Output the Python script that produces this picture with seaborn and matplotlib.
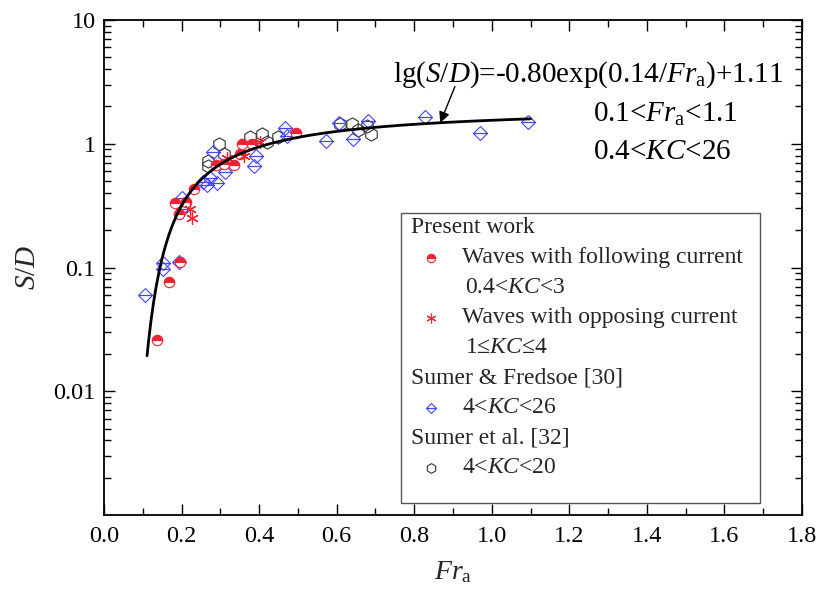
import numpy as np
import pandas as pd
import matplotlib
matplotlib.use("Agg")
import matplotlib.pyplot as plt
import seaborn as sns
from matplotlib.ticker import MultipleLocator, FixedLocator, FixedFormatter, LogLocator, NullFormatter
from matplotlib.patches import Rectangle

# ---------------- data ----------------
# Present work: waves with following current (0.4<KC<3)
fol_fr = [0.137, 0.168, 0.196, 0.184, 0.212, 0.194, 0.233, 0.289, 0.310, 0.335, 0.351, 0.356, 0.382, 0.495]
fol_sd = [0.026, 0.076, 0.111, 0.333, 0.339, 0.271, 0.434, 0.67, 0.685, 0.67, 0.83, 1.0, 1.0, 1.23]
# Present work: waves with opposing current (1<=KC<=4)
opp_fr = [0.222, 0.227, 0.317, 0.361, 0.403]
opp_sd = [0.295, 0.249, 0.76, 0.79, 1.03]
# Sumer & Fredsoe [30] (4<KC<26)
sf_fr = [0.106, 0.152, 0.153, 0.194, 0.201, 0.204, 0.255, 0.266, 0.274, 0.292, 0.312, 0.281, 0.392,
         0.387, 0.467, 0.472, 0.573, 0.606, 0.643, 0.681, 0.828, 0.970, 1.094]
sf_sd = [0.060, 0.108, 0.098, 0.111, 0.363, 0.295, 0.49, 0.46, 0.53, 0.48, 0.59, 0.86, 0.80,
         0.66, 1.34, 1.15, 1.05, 1.46, 1.09, 1.54, 1.65, 1.23, 1.49]
# Sumer et al. [32] (4<KC<20)
se_fr = [0.268, 0.268, 0.297, 0.310, 0.377, 0.408, 0.421, 0.449, 0.609, 0.640, 0.655, 0.679, 0.689]
se_sd = [0.73, 0.66, 1.0, 0.83, 1.13, 1.21, 1.03, 1.13, 1.44, 1.44, 1.29, 1.39, 1.21]

# fitted curve lg(S/D) = A*exp(B/Fr_a) + C, drawn over 0.11 .. 1.1
fit_A, fit_B, fit_C = -0.80, 0.14, 1.11
fit_lo, fit_hi = 0.111, 1.1

xtick_vals = [0.0, 0.2, 0.4, 0.6, 0.8, 1.0, 1.2, 1.4, 1.6, 1.8]
xtick_labels = ["0.0", "0.2", "0.4", "0.6", "0.8", "1.0", "1.2", "1.4", "1.6", "1.8"]
ytick_vals = [0.01, 0.1, 1, 10]
ytick_labels = ["0.01", "0.1", "1", "10"]

RED = "#ee2233"
BLUE = "#4545ff"
GREY = "#333333"

# ---------------- style ----------------
sns.set_theme(style="ticks")
plt.rcParams["font.family"] = ["Liberation Serif", "DejaVu Serif"]
plt.rcParams["mathtext.fontset"] = "custom"
plt.rcParams["mathtext.rm"] = "Liberation Serif"
plt.rcParams["mathtext.it"] = "Liberation Serif:italic"
plt.rcParams["mathtext.bf"] = "Liberation Serif:bold"

W, H = 820, 603
L, R, T, B = 104, 802, 20, 515
fig = plt.figure(figsize=(W / 100, H / 100), dpi=100)
ax = fig.add_axes([L / W, 1 - B / H, (R - L) / W, (B - T) / H])
ax.set_yscale("log")

# ---------------- data marks ----------------
df_fol = pd.DataFrame({"Fr": fol_fr, "SD": fol_sd})
df_opp = pd.DataFrame({"Fr": opp_fr, "SD": opp_sd})
df_sf = pd.DataFrame({"Fr": sf_fr, "SD": sf_sd})
df_se = pd.DataFrame({"Fr": se_fr, "SD": se_sd})

common = dict(estimator=None, sort=False, legend=False, ax=ax, linestyle="none")
sns.lineplot(data=df_se, x="Fr", y="SD", marker="h", markersize=9.5, markerfacecolor="none",
             markeredgecolor=GREY, markeredgewidth=0.8, color=GREY, **common)
sns.lineplot(data=df_sf, x="Fr", y="SD", marker="D", markersize=7.3, fillstyle="top",
             markerfacecolor="none", markerfacecoloralt="none",
             markeredgecolor=BLUE, markeredgewidth=0.8, color=BLUE, **common)
sns.lineplot(data=df_fol, x="Fr", y="SD", marker="o", markersize=7.5, fillstyle="top",
             markerfacecolor=RED, markerfacecoloralt="white",
             markeredgecolor=RED, markeredgewidth=0.8, color=RED, **common)
sns.lineplot(data=df_opp, x="Fr", y="SD", marker=(6, 2, 0), markersize=9,
             markeredgecolor=RED, markeredgewidth=0.9, color=RED, **common)

fr_fit = np.linspace(fit_lo, fit_hi, 300)
sd_fit = 10 ** (fit_A * np.exp(fit_B / fr_fit) + fit_C)
sns.lineplot(x=fr_fit, y=sd_fit, color="black", linewidth=2.0, ax=ax, sort=False,
             estimator=None, legend=False)

# ---------------- axes ----------------
ax.set_xlim(0.0, 1.8)
ax.set_ylim(0.001, 10)
ax.xaxis.set_major_locator(FixedLocator(xtick_vals))
ax.xaxis.set_major_formatter(FixedFormatter(xtick_labels))
ax.xaxis.set_minor_locator(MultipleLocator(0.1))
ax.yaxis.set_major_locator(FixedLocator(ytick_vals))
ax.yaxis.set_major_formatter(FixedFormatter(ytick_labels))
ax.yaxis.set_minor_locator(LogLocator(base=10, subs=np.arange(2, 10), numticks=20))
ax.yaxis.set_minor_formatter(NullFormatter())
ax.tick_params(which="both", direction="in", top=True, right=True, colors="black",
               labelsize=17.5, width=1.0)
ax.tick_params(which="major", length=8)
ax.tick_params(which="minor", length=5)
ax.tick_params(axis="x", pad=8)
ax.tick_params(axis="y", pad=6)
for s in ax.spines.values():
    s.set_linewidth(1.3)
    s.set_color("black")

ax.set_xlabel(r"$Fr_{\mathrm{a}}$", fontsize=20)
ax.set_ylabel(r"$S/D$", fontsize=21)
ax.xaxis.set_label_coords(0.5, -0.089)
ax.yaxis.set_label_coords(-0.09, 0.5)

# ---------------- annotation ----------------
ax.text(0.972, 0.89, r"lg($S$/$D$)=-0.80exp(0.14/$Fr_{\mathrm{a}}$)+1.11", transform=ax.transAxes,
        fontsize=21, ha="right", va="center", color="black")
ax.text(0.70, 0.81, r"0.1<$Fr_{\mathrm{a}}$<1.1", transform=ax.transAxes,
        fontsize=21, ha="left", va="center", color="black")
ax.text(0.70, 0.733, r"0.4<$KC$<26", transform=ax.transAxes,
        fontsize=21, ha="left", va="center", color="black")
ax.annotate("", xy=(0.867, 10 ** (fit_A * np.exp(fit_B / 0.867) + fit_C)), xytext=(0.905, 2.9),
            arrowprops=dict(arrowstyle="-|>", color="black", lw=1.0, mutation_scale=16,
                            shrinkA=0, shrinkB=0))

# ---------------- legend (drawn manually) ----------------
bx0, bx1, by0, by1 = 0.4255, 0.94, 0.024, 0.61
ax.add_patch(Rectangle((bx0, by0), bx1 - bx0, by1 - by0, transform=ax.transAxes,
                       facecolor="white", edgecolor="#555555", lw=1.0, zorder=5))
rows = [0.580 - i * 0.0606 for i in range(9)]
hx, mx, tx = 0.44, 0.468, 0.513
fs = 17
ax.text(hx, rows[0], "Present work", transform=ax.transAxes, fontsize=fs, va="center", zorder=6)
ax.plot([mx], [rows[1]], transform=ax.transAxes, marker="o", markersize=6, fillstyle="top",
        markerfacecolor=RED, markerfacecoloralt="white", markeredgecolor=RED, mew=0.8,
        linestyle="none", zorder=6)
ax.text(tx, rows[1], "Waves with following current", transform=ax.transAxes, fontsize=fs, va="center", zorder=6)
ax.text(tx + 0.004, rows[2], r"0.4<$KC$<3", transform=ax.transAxes, fontsize=fs, va="center", zorder=6)
ax.plot([mx], [rows[3]], transform=ax.transAxes, marker=(6, 2, 0), markersize=7,
        markeredgecolor=RED, mew=0.8, linestyle="none", zorder=6)
ax.text(tx, rows[3], "Waves with opposing current", transform=ax.transAxes, fontsize=fs, va="center", zorder=6)
ax.text(tx + 0.004, rows[4], r"1≤$KC$≤4", transform=ax.transAxes, fontsize=fs, va="center", zorder=6)
ax.text(hx, rows[5], "Sumer & Fredsoe [30]", transform=ax.transAxes, fontsize=fs, va="center", zorder=6)
ax.plot([mx], [rows[6]], transform=ax.transAxes, marker="D", markersize=5.5, fillstyle="top",
        markerfacecolor="none", markerfacecoloralt="none", markeredgecolor=BLUE, mew=0.8,
        linestyle="none", zorder=6)
ax.text(tx, rows[6], r"4<$KC$<26", transform=ax.transAxes, fontsize=fs, va="center", zorder=6)
ax.text(hx, rows[7], "Sumer et al. [32]", transform=ax.transAxes, fontsize=fs, va="center", zorder=6)
ax.plot([mx], [rows[8]], transform=ax.transAxes, marker="h", markersize=7,
        markerfacecolor="none", markeredgecolor=GREY, mew=0.8, linestyle="none", zorder=6)
ax.text(tx, rows[8], r"4<$KC$<20", transform=ax.transAxes, fontsize=fs, va="center", zorder=6)

fig.savefig("out.png", dpi=100, facecolor="white")
